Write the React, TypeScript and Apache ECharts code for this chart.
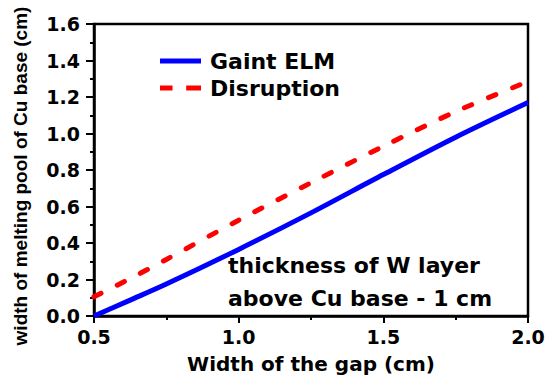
import React, { useEffect, useRef } from "react";
import * as echarts from "echarts";

const gapWidth = [0.5, 0.625, 0.75, 1.0, 1.25, 1.5, 1.75, 2.0];
const giantElm = [0.0, 0.087, 0.175, 0.365, 0.565, 0.775, 0.98, 1.17];
const disruption = [0.105, 0.205, 0.31, 0.525, 0.73, 0.93, 1.12, 1.285];
const seriesNames = ["Gaint ELM", "Disruption"];
const xTitle = "Width of the gap (cm)";
const yTitle = "width of melting pool of Cu base (cm)";
const noteLines = ["thickness of W layer", "above Cu base - 1 cm"];

export default function App() {
  const ref = useRef<HTMLDivElement>(null);
  useEffect(() => {
    if (!ref.current) return;
    const chart = echarts.init(ref.current, null, { renderer: "svg" });
    const tickFont = {
      color: "#000",
      fontFamily: "DejaVu Sans",
      fontWeight: "bold" as const,
      fontSize: 19,
    };
    chart.setOption({
      animation: false,
      grid: {
        left: 94,
        top: 24,
        right: 18,
        bottom: 60,
        outerBoundsMode: "none",
        containLabel: false,
        show: true,
        borderColor: "#000",
        borderWidth: 2.5,
        backgroundColor: "transparent",
      },
      legend: {
        orient: "vertical",
        left: 155,
        top: 45,
        itemWidth: 41,
        itemHeight: 5,
        itemGap: 5,
        symbolKeepAspect: false,
        data: [
          { name: seriesNames[0], icon: "path://M0,0H41V5H0Z" },
          { name: seriesNames[1], icon: "path://M0,0H11V5H0Z M23,0H36V5H23Z" },
        ],
        textStyle: {
          color: "#000",
          fontFamily: "DejaVu Sans",
          fontWeight: "bold",
          fontSize: 22,
          padding: [0, 0, 0, 4],
        },
      },
      xAxis: {
        type: "value",
        min: 0.5,
        max: 2.0,
        interval: 0.5,
        name: xTitle,
        nameLocation: "middle",
        nameGap: 38,
        nameTextStyle: {
          color: "#000",
          fontFamily: "DejaVu Sans",
          fontWeight: "bold",
          fontSize: 20,
        },
        axisLine: { show: true, onZero: false, lineStyle: { color: "#000", width: 2.5 } },
        axisTick: { show: true, inside: false, length: 7, lineStyle: { color: "#000", width: 2 } },
        minorTick: { show: true, splitNumber: 2, length: 4, lineStyle: { color: "#000", width: 2 } },
        splitLine: { show: false },
        axisLabel: {
          ...tickFont,
          margin: 11,
          formatter: (v: number) => v.toFixed(1),
        },
      },
      yAxis: {
        type: "value",
        min: 0,
        max: 1.6,
        interval: 0.2,
        axisLine: { show: true, onZero: false, lineStyle: { color: "#000", width: 2.5 } },
        axisTick: { show: true, inside: false, length: 8, lineStyle: { color: "#000", width: 2 } },
        minorTick: { show: true, splitNumber: 2, length: 4, lineStyle: { color: "#000", width: 2 } },
        splitLine: { show: false },
        axisLabel: {
          ...tickFont,
          margin: 14,
          formatter: (v: number) => v.toFixed(1),
        },
      },
      series: [
        {
          name: seriesNames[0],
          type: "line",
          data: gapWidth.map((x, i) => [x, giantElm[i]]),
          smooth: 0.3,
          symbol: "none",
          lineStyle: { color: "#0000ff", width: 5 },
          itemStyle: { color: "#0000ff" },
        },
        {
          name: seriesNames[1],
          type: "line",
          data: gapWidth.map((x, i) => [x, disruption[i]]),
          smooth: 0.3,
          symbol: "none",
          lineStyle: { color: "#ff0000", width: 5, type: [8, 18], cap: "round" },
          itemStyle: { color: "#ff0000" },
        },
      ],
      graphic: [
        {
          type: "text",
          x: 20,
          y: 176,
          rotation: Math.PI / 2,
          style: {
            text: yTitle,
            fill: "#000",
            font: "bold 19px 'Liberation Sans'",
            textAlign: "center",
            textVerticalAlign: "middle",
          },
        },
        {
          type: "text",
          x: 228,
          y: 265,
          style: {
            text: noteLines[0],
            fill: "#000",
            font: "bold 22px 'DejaVu Sans'",
            textAlign: "left",
            textVerticalAlign: "middle",
          },
        },
        {
          type: "text",
          x: 228,
          y: 298,
          style: {
            text: noteLines[1],
            fill: "#000",
            font: "bold 22px 'DejaVu Sans'",
            textAlign: "left",
            textVerticalAlign: "middle",
          },
        },
      ],
    });
    return () => chart.dispose();
  }, []);
  return (
    <div
      ref={ref}
      style={{ position: "fixed", left: 0, top: 0, width: 546, height: 376, background: "#fff" }}
    />
  );
}
